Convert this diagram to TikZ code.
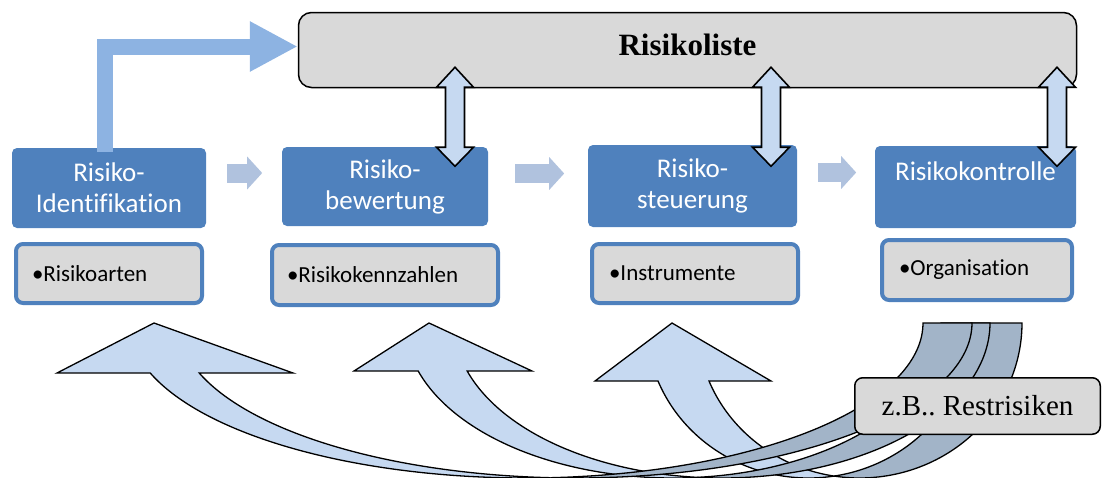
\documentclass[tikz,border=0pt]{standalone}
\usepackage{fontspec}
\newfontfamily\carl[Ligatures=CommonOff]{Carlito}
\newfontfamily\tnr{Liberation Serif}
\usetikzlibrary{arrows.meta,calc}
\frenchspacing

\definecolor{boxblue}{HTML}{4F81BD}
\definecolor{panelgray}{HTML}{D9D9D9}
\definecolor{paleblue}{HTML}{C6D9F1}
\definecolor{tailblue}{HTML}{A2B4C8}
\definecolor{flowblue}{HTML}{8DB3E2}
\definecolor{stepblue}{HTML}{B0C2DE}

% curved feedback arrow built from two equal half ellipses (radii a, 155)
% #1 centre of left ellipse, #2 x radius, #3 band width, #4 y of head base,
% #5 left end of head base, #6 right end of head base, #7 x of the tip
\newcommand{\riskarrow}[7]{%
  \pgfmathsetmacro{\rkL}{#1}%
  \pgfmathsetmacro{\rkR}{#1+#3}%
  \pgfmathsetmacro{\rkA}{#2}%
  \pgfmathsetmacro{\rkal}{acos(#3/(2*#2))}%
  \pgfmathsetmacro{\rkalc}{180-\rkal}%
  \pgfmathsetmacro{\rkbe}{180-asin((#4-323)/155)}%
  \filldraw[tailside]
    plot[domain=0:\rkal] ({\rkL+\rkA*cos(\x)},{323+155*sin(\x)})
    -- plot[domain=\rkalc:0] ({\rkR+\rkA*cos(\x)},{323+155*sin(\x)})
    -- cycle;
  \filldraw[headside]
    plot[domain=\rkbe:\rkal] ({\rkL+\rkA*cos(\x)},{323+155*sin(\x)})
    -- plot[domain=\rkalc:\rkbe] ({\rkR+\rkA*cos(\x)},{323+155*sin(\x)})
    -- (#6,#4) -- (#7,323) -- (#5,#4) -- cycle;
}

% block double arrow hanging from a top tip
\newcommand{\linkarrow}[1]{%
  \filldraw[linkside] #1 -- ++(18.5,20) -- ++(-9,0) -- ++(0,60) -- ++(9,0)
    -- ++(-18.5,19) -- ++(-18.5,-19) -- ++(9,0) -- ++(0,-60) -- ++(-9,0) -- cycle;
}

\begin{document}
\begin{tikzpicture}[x=1pt,y=-1pt,
  phase/.style={rectangle, rounded corners=5pt, fill=boxblue, text=white,
    font=\carl\fontsize{27}{31}\selectfont, align=center, inner sep=0pt},
  itembox/.style={rectangle, rounded corners=7pt, fill=panelgray, draw=boxblue,
    line width=4pt, font=\carl\fontsize{23}{27}\selectfont, align=left,
    inner ysep=0pt},
  listbox/.style={rectangle, rounded corners=13pt, fill=panelgray, draw=black,
    line width=1.5pt, font=\tnr\bfseries\fontsize{31}{36}\selectfont},
  notebox/.style={rectangle, rounded corners=8pt, fill=panelgray, draw=black,
    line width=1.5pt, font=\tnr\fontsize{29}{34}\selectfont, inner sep=0pt},
  stepflow/.style={line width=19pt, draw=stepblue,
    -{Triangle[length=15pt,width=32pt]}},
  tailside/.style={fill=tailblue, draw=black, line width=1.3pt, samples=70},
  headside/.style={fill=paleblue, draw=black, line width=1.3pt, samples=70},
  linkside/.style={fill=paleblue, draw=black, line width=1.6pt}
]
\useasboundingbox (0,0) rectangle (1106,477);

% risk list
\node[listbox, minimum width=778pt, minimum height=75pt,
  text height=20pt, text depth=10pt] (liste) at (687.5,50) {Risikoliste};

% process phases
\node[phase, minimum width=194pt, minimum height=80pt] (ident) at (109,188)
  {Risiko-\\Identifikation};
\node[phase, minimum width=206pt, minimum height=79pt] (bewert) at (385,186.5)
  {Risiko-\\bewertung};
\node[phase, minimum width=209pt, minimum height=82pt] (steuer) at (692.5,186)
  {Risiko-\\steuerung};
\node[phase, minimum width=201pt, minimum height=82pt] (kontr) at (975.5,187)
  {Risikokontrolle\\\mbox{}};

% contents of each phase
\node[itembox, minimum height=59pt, inner xsep=16pt, text width=154pt]
  (arten) at (109,273.5) {•Risikoarten};
\node[itembox, minimum height=60pt, inner xsep=15pt, text width=196pt]
  (kennz) at (385,275) {•Risikokennzahlen};
\node[itembox, minimum height=59pt, inner xsep=17pt, text width=172pt]
  (instr) at (695,273.5) {•Instrumente};
\node[itembox, minimum height=60pt, inner xsep=17pt, text width=156pt]
  (organ) at (977,270) {•Organisation};

% identified risks go into the list
\draw[line width=16pt, draw=flowblue, -{Triangle[length=48pt,width=47pt]}]
  ($(ident.north)+(-4,4)$) |- ($(liste.west)+(0,-3.5)$);

% sequence of the phases
\draw[stepflow] ($(ident.east)+(21,-15)$) -- ++(35,0);
\draw[stepflow] ($(bewert.east)+(27,-13)$) -- ++(49,0);
\draw[stepflow] ($(steuer.east)+(21,-13.5)$) -- ++(38,0);

% exchange between the list and the phases
\linkarrow{($(liste.south)+(-232.5,-21)$)}
\linkarrow{($(liste.south)+(83.5,-21)$)}
\linkarrow{($(liste.south)+(369.5,-21)$)}

% feedback of residual risks
\riskarrow{808.6}{162.4}{51}{381}{595}{771}{672}
\riskarrow{673}{268}{49}{371}{354}{532}{429}
\riskarrow{526}{397}{49}{373}{57}{293}{154}

\node[notebox, minimum width=245.5pt, minimum height=56.5pt] (rest)
  at (977.5,406) {z.B.. Restrisiken};
\end{tikzpicture}
\end{document}
